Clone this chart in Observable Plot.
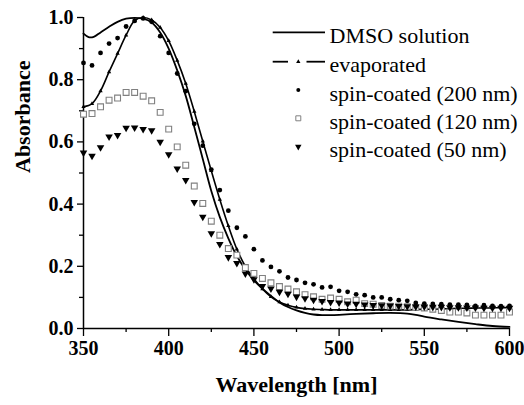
<!DOCTYPE html>
<html>
<head>
<meta charset="utf-8">
<script src="https://cdn.jsdelivr.net/npm/d3@7"></script>
<script src="https://cdn.jsdelivr.net/npm/@observablehq/plot@0.6"></script>
<style>
  html, body { margin: 0; padding: 0; background: #fff; }
  #chart { width: 524px; height: 405px; }
</style>
</head>
<body>
<div id="chart"></div>
<script>
// ---- Data ----
const seriesNames = ["DMSO solution", "evaporated", "spin-coated (200 nm)", "spin-coated (120 nm)", "spin-coated (50 nm)"];

const xMajorTicks = [350, 400, 450, 500, 550, 600];
const xMinorTicks = [375, 425, 475, 525, 575];
const yMajorTicks = [0.0, 0.2, 0.4, 0.6, 0.8, 1.0];
const yMinorTicks = [0.1, 0.3, 0.5, 0.7, 0.9];

// DMSO solution (solid line)
const dmsoWl  = [350, 353, 356, 360, 365, 370, 375, 380, 385, 390, 395, 400, 405, 410, 415, 420, 425, 430, 435, 440, 445, 450, 455, 460, 465, 470, 475, 480, 485, 490, 495, 500, 510, 520, 530, 540, 545, 550, 560, 570, 580, 590, 600];
const dmsoAbs = [0.948, 0.937, 0.938, 0.952, 0.970, 0.986, 0.996, 0.999, 0.996, 0.984, 0.952, 0.900, 0.830, 0.748, 0.648, 0.545, 0.442, 0.358, 0.290, 0.233, 0.190, 0.155, 0.128, 0.105, 0.084, 0.069, 0.058, 0.050, 0.045, 0.043, 0.043, 0.044, 0.047, 0.049, 0.050, 0.048, 0.044, 0.038, 0.029, 0.021, 0.014, 0.008, 0.005];

// evaporated (line with small triangles)
const evapWl  = [350, 355, 360, 365, 370, 375, 380, 385, 390, 395, 400, 405, 410, 415, 420, 425, 430, 435, 440, 445, 450, 455, 460, 465, 470, 475, 480, 485, 490, 495, 500, 505, 510, 515, 520, 525, 530, 535, 540, 545, 550, 555, 560, 565, 570, 575, 580, 585, 590, 595, 600];
const evapAbs = [0.713, 0.723, 0.764, 0.825, 0.884, 0.943, 0.990, 1.000, 0.992, 0.968, 0.925, 0.862, 0.788, 0.698, 0.602, 0.507, 0.415, 0.330, 0.255, 0.200, 0.160, 0.127, 0.102, 0.085, 0.075, 0.068, 0.064, 0.062, 0.061, 0.060, 0.060, 0.060, 0.060, 0.060, 0.060, 0.060, 0.060, 0.060, 0.060, 0.061, 0.062, 0.062, 0.063, 0.064, 0.065, 0.065, 0.066, 0.066, 0.066, 0.067, 0.067];

// spin-coated wavelengths
const spinWl = [350, 355, 360, 365, 370, 375, 380, 385, 390, 395, 400, 405, 410, 415, 420, 425, 430, 435, 440, 445, 450, 455, 460, 465, 470, 475, 480, 485, 490, 495, 500, 505, 510, 515, 520, 525, 530, 535, 540, 545, 550, 555, 560, 565, 570, 575, 580, 585, 590, 595, 600];
// spin-coated (200 nm) - filled dots
const spin200 = [0.854, 0.846, 0.886, 0.916, 0.934, 0.971, 0.989, 0.997, 0.986, 0.940, 0.886, 0.820, 0.763, 0.658, 0.588, 0.511, 0.445, 0.379, 0.324, 0.296, 0.255, 0.219, 0.198, 0.184, 0.164, 0.156, 0.147, 0.142, 0.132, 0.134, 0.121, 0.118, 0.110, 0.107, 0.100, 0.100, 0.094, 0.091, 0.089, 0.082, 0.080, 0.079, 0.078, 0.077, 0.077, 0.076, 0.073, 0.075, 0.073, 0.072, 0.073];
// spin-coated (120 nm) - open squares
const spin120 = [0.689, 0.691, 0.713, 0.734, 0.741, 0.759, 0.759, 0.747, 0.732, 0.695, 0.641, 0.584, 0.525, 0.458, 0.402, 0.345, 0.300, 0.257, 0.236, 0.196, 0.177, 0.161, 0.147, 0.135, 0.127, 0.118, 0.109, 0.102, 0.094, 0.098, 0.094, 0.086, 0.091, 0.080, 0.078, 0.074, 0.072, 0.072, 0.070, 0.068, 0.066, 0.062, 0.058, 0.053, 0.053, 0.050, 0.043, 0.043, 0.043, 0.043, 0.053];
// spin-coated (50 nm) - filled down triangles
const spin50 = [0.565, 0.555, 0.582, 0.617, 0.622, 0.645, 0.646, 0.641, 0.637, 0.600, 0.560, 0.514, 0.477, 0.406, 0.359, 0.306, 0.271, 0.229, 0.210, 0.176, 0.158, 0.136, 0.128, 0.118, 0.111, 0.102, 0.097, 0.092, 0.088, 0.085, 0.083, 0.080, 0.079, 0.077, 0.075, 0.074, 0.073, 0.072, 0.071, 0.070, 0.070, 0.069, 0.069, 0.068, 0.068, 0.067, 0.067, 0.066, 0.066, 0.066, 0.066];

// ---- Build tables ----
const dmso = dmsoWl.map((x, i) => ({x, y: dmsoAbs[i]}));
const evap = evapWl.map((x, i) => ({x, y: evapAbs[i]}));
const s200 = spinWl.map((x, i) => ({x, y: spin200[i]}));
const s120 = spinWl.map((x, i) => ({x, y: spin120[i]}));
const s50  = spinWl.map((x, i) => ({x, y: spin50[i]}));

const FONT = "'Liberation Serif', 'Times New Roman', serif";

const chart = Plot.plot({
  width: 524,
  height: 405,
  marginLeft: 83,
  marginRight: 15,
  marginTop: 17,
  marginBottom: 77,
  style: {fontFamily: FONT, background: "#fff", color: "#000", overflow: "visible"},
  x: {domain: [350, 600]},
  y: {domain: [0, 1]},
  marks: [
    // axes
    Plot.axisX({ticks: xMinorTicks, tickSize: 4, tickFormat: () => "", label: null, strokeWidth: 1.3}),
    Plot.axisX({ticks: xMajorTicks, tickSize: 8, tickPadding: 4, tickFormat: d3.format("d"), fontSize: 20, fontWeight: "bold", label: null, strokeWidth: 1.3}),
    Plot.axisY({ticks: yMinorTicks, tickSize: 4, tickFormat: () => "", label: null, strokeWidth: 1.3}),
    Plot.axisY({ticks: yMajorTicks, tickSize: 6, tickPadding: 4, tickFormat: d3.format(".1f"), fontSize: 20, fontWeight: "bold", label: null, strokeWidth: 1.3}),
    Plot.ruleX([350], {y1: 0, y2: 1, strokeWidth: 1.5}),
    Plot.ruleY([0], {x1: 350, x2: 600, strokeWidth: 1.5}),
    // axis titles
    Plot.text(["Wavelength [nm]"], {frameAnchor: "bottom", dy: 56, fontSize: 22, fontWeight: "bold", lineAnchor: "middle"}),
    Plot.text(["Absorbance"], {frameAnchor: "left", dx: -61, rotate: -90, fontSize: 22, fontWeight: "bold", lineAnchor: "middle"}),
    // data
    Plot.line(dmso, {x: "x", y: "y", stroke: "#000", strokeWidth: 1.8, curve: "catmull-rom"}),
    Plot.line(evap, {x: "x", y: "y", stroke: "#000", strokeWidth: 1.6, curve: "catmull-rom"}),
    Plot.dot(evap, {x: "x", y: "y", symbol: "triangle", r: 1.6, fill: "#000", stroke: "none"}),
    Plot.dot(s120, {x: "x", y: "y", symbol: "square", r: 3.3, fill: "#fff", stroke: "#808080", strokeWidth: 1.1}),
    Plot.dot(s200, {x: "x", y: "y", symbol: "circle", r: 2.4, fill: "#000", stroke: "none"}),
    Plot.dot(s50, {x: "x", y: "y", symbol: "triangle", r: 2.8, rotate: 180, fill: "#000", stroke: "none"})
  ]
});

document.getElementById("chart").appendChild(chart);

// ---- Legend ----
const svg = d3.select(chart);
const lg = svg.append("g").attr("font-family", FONT).attr("font-size", 22).attr("fill", "#000").attr("text-anchor", "start");
const rowY = [32.3, 61.7, 90, 118.3, 146.7];
const markX = 298.3, lineX1 = 272.7, lineX2 = 325, textX = 329.5;
seriesNames.forEach((name, i) => {
  const y = rowY[i];
  lg.append("text").attr("x", textX).attr("y", y + 10.5).attr("text-anchor", "start").text(name);
});
// DMSO
lg.append("line").attr("x1", lineX1).attr("x2", lineX2).attr("y1", rowY[0]).attr("y2", rowY[0]).attr("stroke", "#000").attr("stroke-width", 1.8);
// evaporated
lg.append("line").attr("x1", lineX1).attr("x2", 288).attr("y1", rowY[1]).attr("y2", rowY[1]).attr("stroke", "#000").attr("stroke-width", 1.8);
lg.append("line").attr("x1", 306.5).attr("x2", lineX2).attr("y1", rowY[1]).attr("y2", rowY[1]).attr("stroke", "#000").attr("stroke-width", 1.8);
lg.append("path").attr("d", d3.symbol(d3.symbolTriangle, Math.PI * 1.6 * 1.6)()).attr("transform", `translate(${markX},${rowY[1]})`).attr("fill", "#000");
// dots
lg.append("circle").attr("cx", markX).attr("cy", rowY[2]).attr("r", 2).attr("fill", "#000");
lg.append("path").attr("d", d3.symbol(d3.symbolSquare, Math.PI * 2.8 * 2.8)()).attr("transform", `translate(${markX},${rowY[3]})`).attr("fill", "#fff").attr("stroke", "#808080").attr("stroke-width", 1);
lg.append("path").attr("d", d3.symbol(d3.symbolTriangle, Math.PI * 2.4 * 2.4)()).attr("transform", `translate(${markX},${rowY[4]}) rotate(180)`).attr("fill", "#000");
</script>
</body>
</html>
